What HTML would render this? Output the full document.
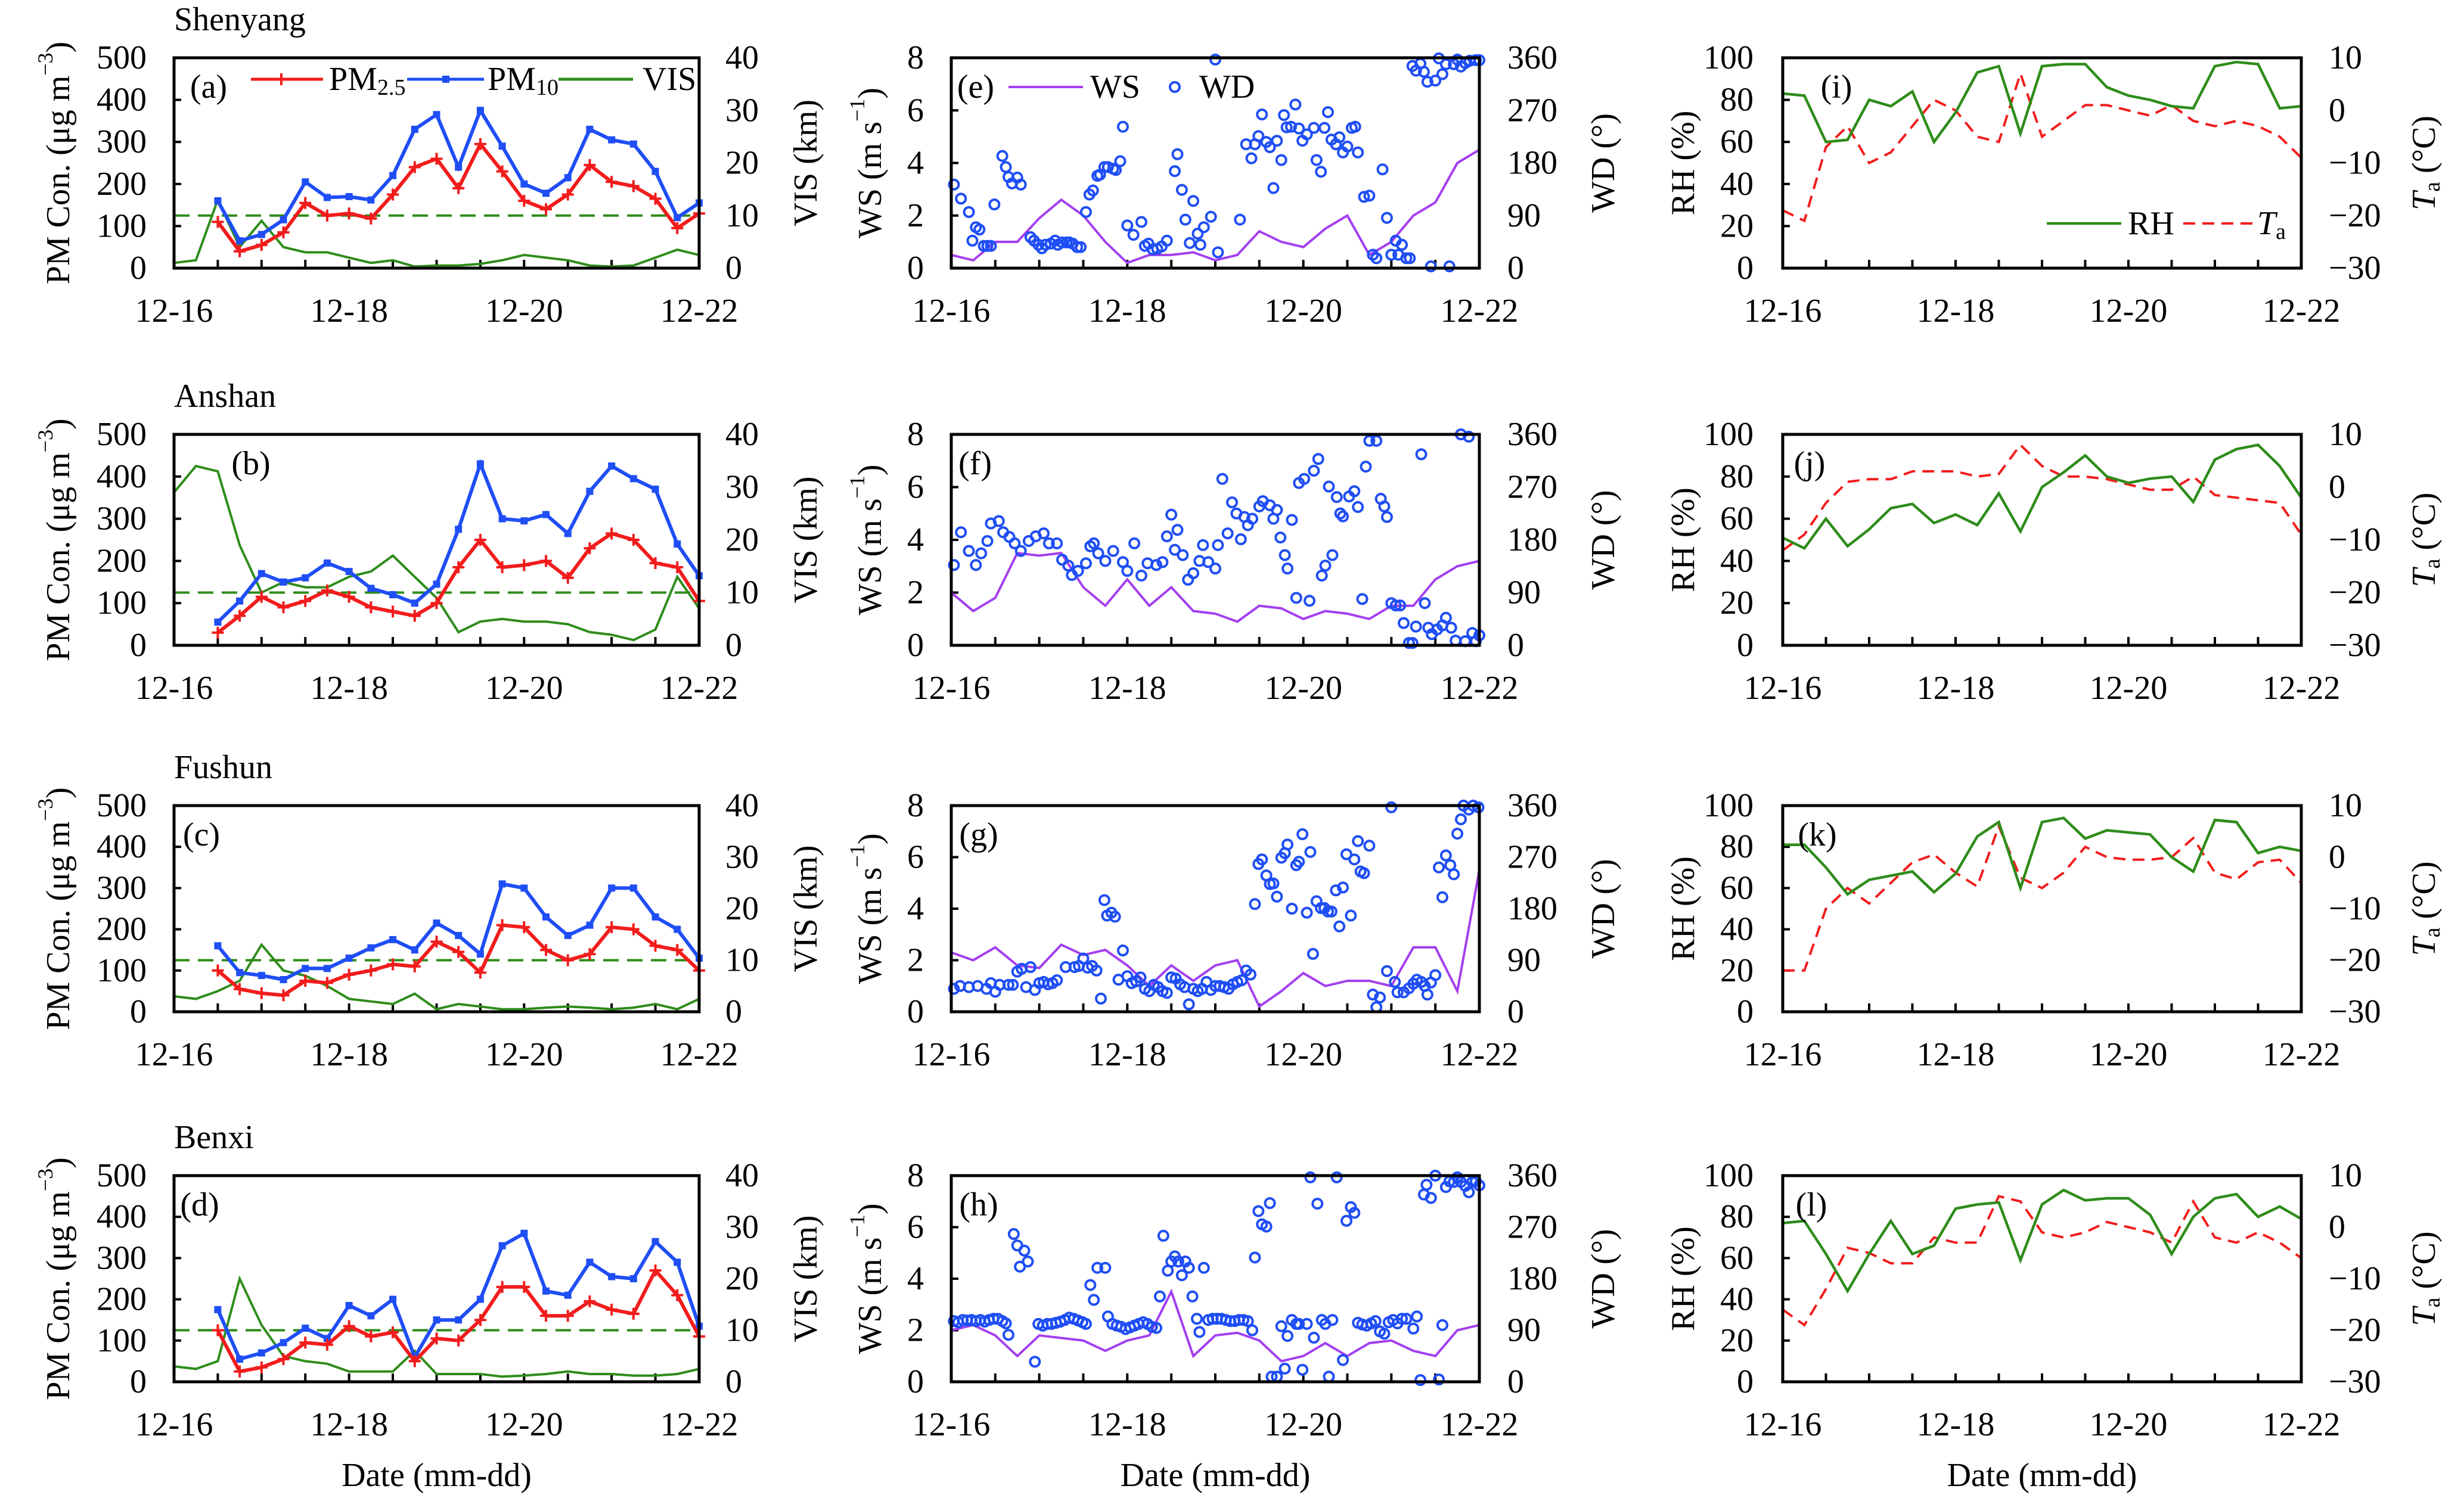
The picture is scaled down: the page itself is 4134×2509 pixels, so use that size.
<!DOCTYPE html>
<html><head><meta charset="utf-8">
<style>
html,body{margin:0;padding:0;background:#fff;}
svg{display:block;font-family:"Liberation Serif",serif;}
</style></head>
<body>
<svg id="fig" xmlns="http://www.w3.org/2000/svg" width="4134" height="2509" viewBox="0 0 4134 2509"></svg>
<script>
// ---- shared time grid (days since 12-16 00:00) ----
const tGrid=[0,0.25,0.5,0.75,1,1.25,1.5,1.75,2,2.25,2.5,2.75,3,3.25,3.5,3.75,4,4.25,4.5,4.75,5,5.25,5.5,5.75,6];
const dateTicks=["12-16","12-18","12-20","12-22"];
const dateTickDays=[0,2,4,6];
const pmTicks=[0,100,200,300,400,500];
const visTicks=[0,10,20,30,40];
const wsTicks=[0,2,4,6,8];
const wdTicks=[0,90,180,270,360];
const rhTicks=[0,20,40,60,80,100];
const taTicks=[-30,-20,-10,0,10];
const pmLimit=[125];
const stations=["Shenyang","Anshan","Fushun","Benxi"];

// ---- PM / VIS (left column) ----
const aPM10=[null,null,160,65,80,115,205,168,170,162,220,330,365,240,375,290,200,178,215,330,305,295,230,120,155];
const aPM25=[null,null,110,40,55,85,155,125,130,118,175,240,260,190,295,230,160,140,175,245,205,195,165,95,130];
const aVIS=[1,1.5,13,4,9,4,3,3,2,1,1.5,0.3,0.5,0.5,0.8,1.5,2.5,2,1.5,0.5,0.3,0.5,2,3.5,2.5];
const bPM10=[null,null,55,105,170,150,160,195,175,135,120,100,145,275,430,300,295,310,265,365,425,395,370,240,165];
const bPM25=[null,null,30,70,115,90,105,130,115,90,80,70,100,185,250,185,190,200,160,230,265,250,195,185,105];
const bVIS=[29,34,33,19,10,12,11,11,13,14,17,13,9,2.5,4.5,5,4.5,4.5,4,2.5,2,1,3,13,7];
const cPM10=[null,null,160,95,88,78,105,105,130,155,175,150,215,185,140,310,300,230,185,210,300,300,230,200,130];
const cPM25=[null,null,100,55,45,40,75,70,90,100,115,110,170,145,95,210,205,150,125,140,205,200,160,150,100];
const cVIS=[3,2.5,4,6,13,8,7,5,2.5,2,1.5,3.5,0.5,1.5,1,0.5,0.5,0.8,1,0.8,0.5,0.8,1.5,0.5,2.5];
const dPM10=[null,null,175,55,70,95,130,105,185,160,200,60,150,150,200,330,360,220,210,290,255,250,340,290,135];
const dPM25=[null,null,125,25,35,55,95,90,135,110,120,50,105,100,150,230,230,160,160,195,175,165,270,210,110];
const dVIS=[3,2.5,4,20,11,5,4,3.5,2,2,2,6,1.5,1.5,1.5,1,1.2,1.5,2,1.5,1.5,1.2,1.2,1.5,2.5];

// ---- WS (middle column) ----
const eWS=[0.5,0.3,1.0,1.0,1.9,2.6,2.0,1.0,0.2,0.5,0.5,0.6,0.3,0.5,1.4,1.0,0.8,1.5,2.0,0.5,1.0,2.0,2.5,4.0,4.5];
const fWS=[2.0,1.3,1.8,3.5,3.4,3.5,2.2,1.5,2.5,1.5,2.2,1.3,1.2,0.9,1.5,1.4,1.0,1.3,1.2,1.0,1.5,1.5,2.5,3.0,3.2];
const gWS=[2.3,2.0,2.5,1.8,1.7,2.6,2.2,2.4,1.8,1.0,1.8,1.2,1.8,2.0,0.2,0.8,1.5,1.0,1.2,1.2,1.0,2.5,2.5,0.8,5.5];
const hWS=[2.0,2.2,1.8,1.0,1.8,1.7,1.6,1.2,1.6,1.8,3.5,1.0,1.8,1.9,1.6,0.8,1.0,1.5,1.0,1.5,1.6,1.2,1.0,2.0,2.2];

// ---- WD scatter (time in days, direction in degrees) ----
const eWDt=[0.03,0.11,0.2,0.24,0.28,0.32,0.37,0.41,0.45,0.49,0.58,0.62,0.65,0.69,0.75,0.79,0.9,0.94,0.99,1.03,1.07,1.13,1.18,1.21,1.26,1.31,1.34,1.38,1.43,1.47,1.53,1.57,1.61,1.66,1.69,1.74,1.78,1.84,1.87,1.92,1.95,2.0,2.07,2.16,2.2,2.24,2.29,2.34,2.39,2.45,2.54,2.57,2.62,2.66,2.71,2.75,2.8,2.83,2.87,2.95,3.0,3.03,3.28,3.35,3.41,3.45,3.49,3.53,3.58,3.62,3.66,3.7,3.75,3.78,3.81,3.86,3.91,3.95,3.99,4.04,4.12,4.15,4.2,4.24,4.28,4.32,4.37,4.41,4.45,4.5,4.55,4.59,4.62,4.69,4.75,4.79,4.83,4.9,4.95,5.0,5.05,5.08,5.12,5.17,5.21,5.24,5.28,5.33,5.37,5.41,5.45,5.5,5.54,5.58,5.62,5.66,5.71,5.75,5.79,5.84,5.89,5.96,6.0];
const eWD=[143,119,96,47,70,66,38,38,38,109,192,173,156,145,155,143,53,47,40,34,40,42,47,40,44,44,44,42,36,36,96,126,133,158,160,173,173,170,168,183,242,73,57,79,38,42,32,33,37,47,166,195,134,83,43,115,59,40,70,88,357,27,83,212,188,212,226,263,216,207,137,218,185,262,241,242,280,239,218,229,240,185,165,240,267,220,212,224,198,208,240,242,198,122,124,23,17,169,86,23,47,23,40,17,17,346,338,350,336,319,3,321,359,332,349,3,349,357,345,351,355,356,356];
const fWDt=[0.03,0.11,0.2,0.28,0.34,0.41,0.45,0.54,0.59,0.66,0.72,0.79,0.88,0.96,1.05,1.11,1.2,1.26,1.33,1.37,1.44,1.53,1.58,1.62,1.67,1.75,1.84,1.95,2.0,2.08,2.16,2.23,2.33,2.4,2.45,2.5,2.54,2.57,2.63,2.69,2.75,2.82,2.86,2.92,3.0,3.03,3.08,3.14,3.19,3.24,3.29,3.33,3.37,3.42,3.5,3.54,3.62,3.66,3.7,3.74,3.79,3.82,3.87,3.92,3.95,4.01,4.07,4.12,4.17,4.21,4.25,4.29,4.33,4.38,4.42,4.45,4.52,4.58,4.62,4.67,4.71,4.75,4.83,4.88,4.92,4.95,5.0,5.05,5.1,5.14,5.2,5.24,5.28,5.34,5.38,5.42,5.46,5.52,5.58,5.62,5.68,5.73,5.79,5.84,5.88,5.92,5.96,6.0];
const fWD=[137,193,161,137,157,178,208,212,193,185,174,161,178,186,191,174,174,146,136,120,127,140,169,174,157,144,161,142,127,174,119,140,137,142,186,223,163,197,154,112,123,144,171,142,131,171,284,191,244,225,181,219,205,216,237,246,239,216,231,184,154,131,214,81,277,284,76,298,318,119,136,271,154,253,225,220,254,263,236,79,305,349,349,250,237,219,72,68,68,38,4,4,32,326,72,30,19,27,34,47,30,8,360,7,356,21,7,17];
const gWDt=[0.03,0.1,0.2,0.3,0.4,0.45,0.5,0.55,0.65,0.7,0.75,0.8,0.85,0.9,0.95,1.0,1.05,1.1,1.15,1.2,1.3,1.4,1.45,1.5,1.55,1.6,1.65,1.7,1.74,1.77,1.82,1.86,1.9,1.95,2.0,2.05,2.1,2.15,2.2,2.25,2.3,2.35,2.4,2.45,2.5,2.55,2.6,2.65,2.7,2.75,2.8,2.85,2.9,2.95,3.0,3.05,3.1,3.15,3.2,3.25,3.3,3.35,3.4,3.45,3.49,3.53,3.58,3.62,3.66,3.7,3.75,3.79,3.82,3.87,3.92,3.95,3.99,4.04,4.08,4.11,4.15,4.2,4.24,4.28,4.32,4.37,4.41,4.45,4.49,4.54,4.58,4.62,4.65,4.69,4.75,4.79,4.83,4.87,4.95,5.0,5.04,5.07,5.14,5.2,5.25,5.29,5.34,5.38,5.41,5.45,5.5,5.54,5.58,5.62,5.67,5.71,5.75,5.79,5.82,5.88,5.93,5.99];
const gWD=[40,45,43,45,40,50,35,47,47,47,70,75,43,78,38,50,52,48,50,55,78,78,80,93,77,80,72,23,195,168,173,166,56,107,62,50,53,60,40,36,47,43,36,33,60,58,48,43,13,40,36,40,52,38,45,45,43,40,48,52,55,72,65,188,258,266,238,223,224,201,269,277,292,180,256,262,310,173,279,101,193,181,181,175,175,212,149,217,275,168,266,298,245,242,290,30,8,25,71,357,52,34,34,41,49,56,52,45,30,51,64,252,200,273,256,240,311,336,360,353,360,357];
const hWDt=[0.03,0.08,0.13,0.18,0.23,0.28,0.33,0.38,0.43,0.48,0.53,0.58,0.62,0.65,0.71,0.75,0.78,0.83,0.87,0.95,0.99,1.04,1.09,1.14,1.19,1.24,1.29,1.34,1.39,1.44,1.49,1.53,1.58,1.62,1.66,1.75,1.78,1.83,1.88,1.93,1.98,2.03,2.08,2.13,2.18,2.23,2.28,2.33,2.37,2.41,2.46,2.5,2.54,2.58,2.62,2.66,2.7,2.74,2.79,2.82,2.87,2.92,2.97,3.02,3.07,3.12,3.17,3.22,3.27,3.32,3.37,3.42,3.45,3.49,3.53,3.58,3.62,3.64,3.7,3.75,3.79,3.82,3.87,3.92,3.95,3.99,4.04,4.08,4.12,4.16,4.21,4.25,4.29,4.33,4.38,4.45,4.49,4.54,4.58,4.62,4.67,4.72,4.77,4.82,4.87,4.92,4.97,5.02,5.07,5.12,5.17,5.25,5.29,5.33,5.37,5.4,5.45,5.5,5.54,5.58,5.62,5.66,5.71,5.75,5.79,5.84,5.88,5.92,5.96,6.0];
const hWD=[106,104,108,107,108,106,108,105,108,110,110,106,102,82,258,238,201,229,210,35,101,98,101,101,103,105,108,112,110,107,104,101,169,143,199,199,114,101,98,96,92,95,98,101,104,101,96,94,149,255,194,210,219,210,186,210,199,149,110,87,199,108,110,110,110,108,106,106,108,108,106,90,217,298,275,271,312,9,9,97,23,80,108,101,101,21,101,357,77,311,108,101,9,108,357,38,281,305,295,103,100,98,102,106,88,84,104,108,102,110,110,93,114,3,327,344,321,360,4,99,340,350,349,357,349,342,331,349,350,343];

// ---- RH / Ta (right column) ----
const iRH=[83,82,60,61,80,77,84,60,74,93,96,64,96,97,97,86,82,80,77,76,96,98,97,76,77];
const iTa=[-19,-21,-7,-3,-10,-8,-3,2,0,-5,-6,7,-5,-2,1,1,0,-1,1,-2,-3,-2,-3,-5,-9];
const jRH=[51,46,60,47,55,65,67,58,62,57,72,54,75,82,90,80,77,79,80,68,88,93,95,85,70];
const jTa=[-12,-9,-3,1,1.5,1.5,3,3,3,2,2.5,8,4,2,2,1.5,0.5,-0.5,-0.5,2,-1.5,-2,-2.5,-3,-9];
const kRH=[81,81,70,57,64,66,68,58,67,85,92,60,92,94,84,88,87,86,75,68,93,92,77,80,78];
const kTa=[-22,-22,-10,-6,-9,-5,-1,0.5,-3,-5.7,6,-4,-6,-3,2,0,-0.5,-0.5,0,3.7,-3,-4.3,-1,-0.5,-5];
const lRH=[77,78,62,44,62,78,62,66,84,86,87,59,86,93,88,89,89,81,62,80,89,91,80,85,79];
const lTa=[-16,-19,-12,-4,-5,-7,-7,-2,-3,-3,6,5,-1,-2,-1,1,0,-1,-3,5,-2,-3,-1,-3,-6];

// ---------------- drawing ----------------
const svg=document.getElementById('fig');
const NS='http://www.w3.org/2000/svg';
function mk(tag,attrs,parent){const e=document.createElementNS(NS,tag);for(const k in attrs)e.setAttribute(k,attrs[k]);(parent||svg).appendChild(e);return e;}
function txt(s,x,y,size,anchor,parent){const e=mk('text',{x:x,y:y,'font-size':size,'text-anchor':anchor||'middle','dominant-baseline':'central',fill:'#000'},parent);e.textContent=s;return e;}
const cols=[{x0:292,x1:1173},{x0:1596,x1:2482},{x0:2991,x1:3861}];
const rows=[{y0:97,y1:450},{y0:729,y1:1083},{y0:1352,y1:1698},{y0:1973,y1:2319}];
const FS=56;
const RED='#f21c1c',BLUE='#1f4ef5',GREEN='#2e8c1a',PURPLE='#a33ff0';
function minus(v){return v<0?'\u2212'+Math.abs(v):String(v);}

function scaleX(c){return t=>c.x0+(t/6)*(c.x1-c.x0);}
function scaleY(r,lo,hi){return v=>r.y1-(v-lo)/(hi-lo)*(r.y1-r.y0);}

function linePath(xs,ys,sx,sy){let d='',pen=false;for(let i=0;i<Math.min(xs.length,ys.length);i++){const v=ys[i];if(v===null||v===undefined){pen=false;continue;}d+=(pen?'L':'M')+sx(xs[i]).toFixed(1)+','+sy(v).toFixed(1);pen=true;}return d;}

function frame(c,r,g,leftTicks,lo,hi,rightTicks,rlo,rhi,leftFmt,rightFmt,lx,rx){
  const sx=scaleX(c),sy=scaleY(r,lo,hi),sry=scaleY(r,rlo,rhi);
  leftTicks.forEach(v=>{
    const y=sy(v);
    const tk=mk('line',{x1:c.x0,x2:c.x0+12,y1:y,y2:y,stroke:'#000','stroke-width':4},g);
    
    
    const tl=txt(leftFmt(v),lx,y,FS,'end',g);
    
    
  });
  rightTicks.forEach(v=>{
    const y=sry(v);
    const tl=txt(rightFmt(v),rx,y,FS,'start',g);
    
    
  });
  for(let h=0;h<=12;h++){
    const x=sx(h*0.5);
    const tk=mk('line',{x1:x,x2:x,y1:r.y1,y2:r.y1-14,stroke:'#000','stroke-width':4},g);
    
    
  }
  dateTicks.forEach((s,i)=>{
    const tl=txt(s,sx(dateTickDays[i]),r.y1+72,FS,'middle',g);
    
    
  });
  return {sx,sy,sry};
}
function border(c,r,g){
  const b=mk('rect',{x:c.x0,y:r.y0,width:c.x1-c.x0,height:r.y1-r.y0,fill:'none',stroke:'#000','stroke-width':5},g);
  
  
}
function vlabel(parts,x,y,g){
  const t=mk('text',{x:0,y:0,'font-size':FS,'text-anchor':'middle','dominant-baseline':'central',transform:`translate(${x},${y}) rotate(-90)`},g);
  parts.forEach(p=>{const s=mk('tspan',p.a||{},t);s.textContent=p.s;});
  return t;
}

const letters=['a','b','c','d','e','f','g','h','i','j','k','l'];
const letterOff=[[58,49],[129,49],[46,49],[43,49],[41,49],[40,49],[46,49],[46,49],[90,49],[45,49],[58,49],[48,49]];

const pmSets=[[aPM25,aPM10,aVIS],[bPM25,bPM10,bVIS],[cPM25,cPM10,cVIS],[dPM25,dPM10,dVIS]];
const wsSets=[[eWS,eWDt,eWD],[fWS,fWDt,fWD],[gWS,gWDt,gWD],[hWS,hWDt,hWD]];
const metSets=[[iRH,iTa],[jRH,jTa],[kRH,kTa],[lRH,lTa]];

for(let ri=0;ri<4;ri++){
  const r=rows[ri];
  const st=txt(stations[ri],292,r.y0-64,FS,'start');
  
  

  // ---- PM panel ----
  {
    const c=cols[0];
    const g=mk('g',{});
    
    
    const {sx,sy,sry}=frame(c,r,g,pmTicks,0,500,visTicks,0,40,v=>String(v),v=>String(v),246,1217);
    const lim=mk('line',{x1:c.x0,x2:c.x1,y1:sy(pmLimit[0]),y2:sy(pmLimit[0]),stroke:GREEN,'stroke-width':4,'stroke-dasharray':'26,14'},g);
    
    
    const [p25,p10,vis]=pmSets[ri];
    const vl=mk('path',{d:linePath(tGrid,vis,sx,sry),fill:'none',stroke:GREEN,'stroke-width':4},g);
    
    
    const l10=mk('path',{d:linePath(tGrid,p10,sx,sy),fill:'none',stroke:BLUE,'stroke-width':6},g);
    
    
    p10.forEach((v,i)=>{if(v===null)return;
      const m=mk('rect',{x:sx(tGrid[i])-6,y:sy(v)-6,width:12,height:12,fill:BLUE},g);
      
      });
    const l25=mk('path',{d:linePath(tGrid,p25,sx,sy),fill:'none',stroke:RED,'stroke-width':6},g);
    
    
    p25.forEach((v,i)=>{if(v===null)return;const x=sx(tGrid[i]),y=sy(v);
      const m=mk('path',{d:`M${x-10},${y}H${x+10}M${x},${y-10}V${y+10}`,stroke:RED,'stroke-width':4},g);
      
      });
    border(c,r,g);
    const yl=vlabel([{s:'PM Con. (\u03bcg m'},{s:'\u22123',a:{'font-size':36,dy:-22}},{s:')',a:{dy:22}}],98,(r.y0+r.y1)/2,g);
    
    
    const yr=vlabel([{s:'VIS (km)'}],1352,(r.y0+r.y1)/2,g);
    
    
    const pl=txt('('+letters[ri]+')',c.x0+letterOff[ri][0],r.y0+letterOff[ri][1],FS,'middle',g);
    
    
    if(ri===0){
      const lg=mk('g',{},g);
      
      
      const ly=r.y0+36;
      const e1=mk('line',{x1:421,x2:542,y1:ly,y2:ly,stroke:RED,'stroke-width':5},lg);
      
      
      const e1m=mk('path',{d:`M472,${ly-10}V${ly+10}M462,${ly}H482`,stroke:RED,'stroke-width':4},lg);
      
      
      const t1=mk('text',{x:552,y:ly,'font-size':FS,'dominant-baseline':'central'},lg);
      
      
      t1.innerHTML='PM<tspan font-size="38" dy="14">2.5</tspan>';
      const e2=mk('line',{x1:683,x2:812,y1:ly,y2:ly,stroke:BLUE,'stroke-width':5},lg);
      
      
      const e2m=mk('rect',{x:742,y:ly-6,width:12,height:12,fill:BLUE},lg);
      
      
      const t2=mk('text',{x:818,y:ly,'font-size':FS,'dominant-baseline':'central'},lg);
      
      
      t2.innerHTML='PM<tspan font-size="38" dy="14">10</tspan>';
      const e3=mk('line',{x1:937,x2:1062,y1:ly,y2:ly,stroke:GREEN,'stroke-width':5},lg);
      
      
      const t3=txt('VIS',1078,ly,FS,'start',lg);
      
      
    }
  }
  // ---- WS/WD panel ----
  {
    const c=cols[1];
    const g=mk('g',{});
    
    
    const {sx,sy,sry}=frame(c,r,g,wsTicks,0,8,wdTicks,0,360,v=>String(v),v=>String(v),1550,2529);
    const [ws,wdt,wd]=wsSets[ri];
    const wl=mk('path',{d:linePath(tGrid,ws,sx,sy),fill:'none',stroke:PURPLE,'stroke-width':4},g);
    
    
    for(let i=0;i<Math.min(wdt.length,wd.length);i++){
      const p=mk('circle',{cx:sx(wdt[i]),cy:sry(wd[i]),r:8,fill:'none',stroke:BLUE,'stroke-width':4},g);
      
      
    }
    border(c,r,g);
    const yl=vlabel([{s:'WS (m s'},{s:'\u22121',a:{'font-size':36,dy:-22}},{s:')',a:{dy:22}}],1460,(r.y0+r.y1)/2,g);
    
    
    const yr=vlabel([{s:'WD (\u00b0)'}],2690,(r.y0+r.y1)/2,g);
    
    
    const pl=txt('('+letters[4+ri]+')',c.x0+letterOff[4+ri][0],r.y0+letterOff[4+ri][1],FS,'middle',g);
    
    
    if(ri===0){
      const lg=mk('g',{},g);
      
      
      const ly=r.y0+49;
      const s1=mk('line',{x1:1692,x2:1817,y1:ly,y2:ly,stroke:PURPLE,'stroke-width':4},lg);
      
      
      const t1=txt('WS',1829,ly,FS,'start',lg);
      
      
      const s2=mk('circle',{cx:1971,cy:ly,r:8,fill:'none',stroke:BLUE,'stroke-width':4},lg);
      
      
      const t2=txt('WD',2012,ly,FS,'start',lg);
      
      
    }
  }
  // ---- RH/Ta panel ----
  {
    const c=cols[2];
    const g=mk('g',{});
    
    
    const {sx,sy,sry}=frame(c,r,g,rhTicks,0,100,taTicks,-30,10,v=>String(v),minus,2942,3907);
    const [rh,ta]=metSets[ri];
    const tl=mk('path',{d:linePath(tGrid,ta,sx,sry),fill:'none',stroke:RED,'stroke-width':4,'stroke-dasharray':'20,12'},g);
    
    
    const rl=mk('path',{d:linePath(tGrid,rh,sx,sy),fill:'none',stroke:GREEN,'stroke-width':4.5},g);
    
    
    border(c,r,g);
    const yl=vlabel([{s:'RH (%)'}],2824,(r.y0+r.y1)/2,g);
    
    
    const yr=vlabel([{s:'T',a:{'font-style':'italic'}},{s:'a',a:{'font-size':38,dy:14}},{s:' (\u00b0C)',a:{dy:-14}}],4067,(r.y0+r.y1)/2,g);
    
    
    const pl=txt('('+letters[8+ri]+')',c.x0+letterOff[8+ri][0],r.y0+letterOff[8+ri][1],FS,'middle',g);
    
    
    if(ri===0){
      const lg=mk('g',{},g);
      
      
      const ly=375;
      const s1=mk('line',{x1:3434,x2:3559,y1:ly,y2:ly,stroke:GREEN,'stroke-width':4.5},lg);
      
      
      const t1=txt('RH',3570,ly,FS,'start',lg);
      
      
      const s2=mk('line',{x1:3663,x2:3780,y1:ly,y2:ly,stroke:RED,'stroke-width':4,'stroke-dasharray':'20,12'},lg);
      
      
      const t2=mk('text',{x:3787,y:ly,'font-size':FS,'dominant-baseline':'central'},lg);
      
      
      t2.innerHTML='<tspan font-style="italic">T</tspan><tspan font-size="38" dy="14">a</tspan>';
    }
  }
}
// x-axis titles
[0,1,2].forEach(ci=>{
  const c=cols[ci];
  const t=txt('Date (mm-dd)',(c.x0+c.x1)/2,2476,FS,'middle');
  
  
});
</script>
</body></html>
